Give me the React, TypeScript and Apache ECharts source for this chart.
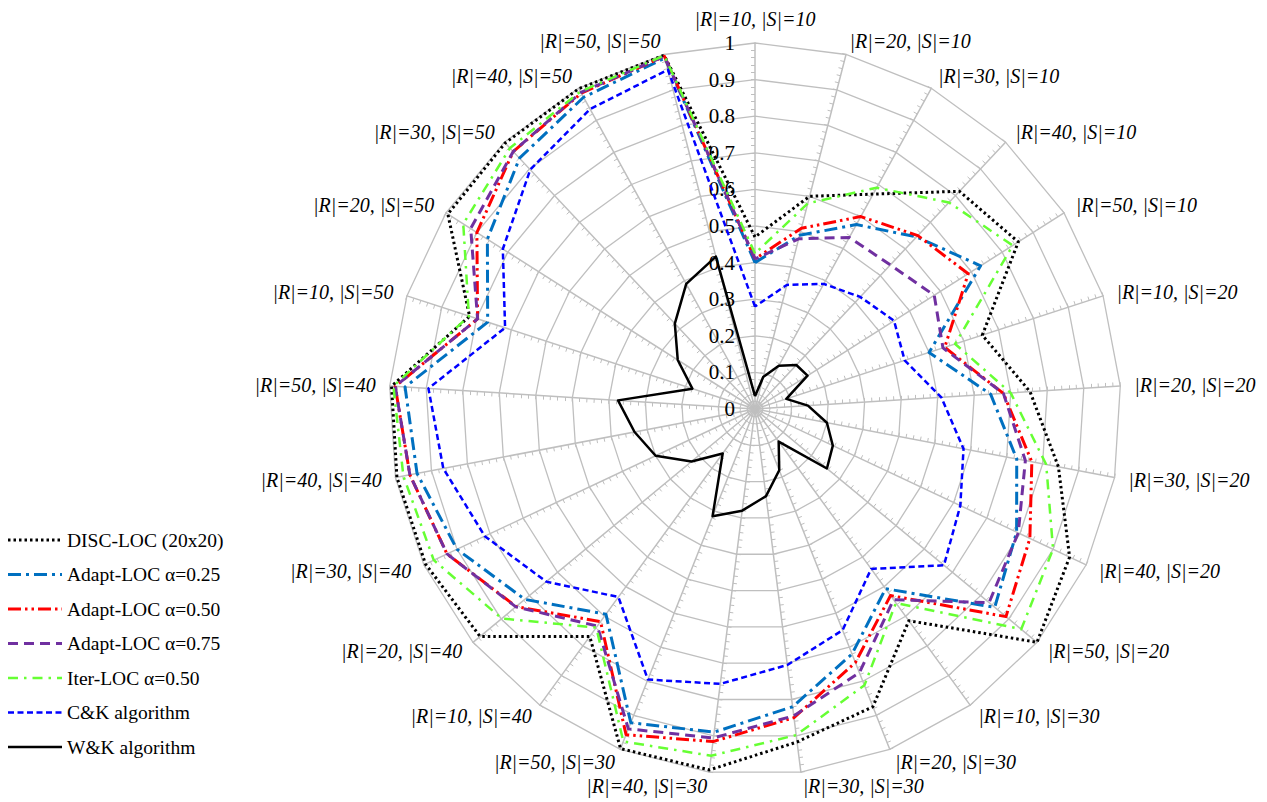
import React, { useEffect, useRef } from "react";
import * as echarts from "echarts";

// Spokes, listed clockwise starting from the top spoke.
const categories = [
  "|R|=10, |S|=10", "|R|=20, |S|=10", "|R|=30, |S|=10", "|R|=40, |S|=10", "|R|=50, |S|=10",
  "|R|=10, |S|=20", "|R|=20, |S|=20", "|R|=30, |S|=20", "|R|=40, |S|=20", "|R|=50, |S|=20",
  "|R|=10, |S|=30", "|R|=20, |S|=30", "|R|=30, |S|=30", "|R|=40, |S|=30", "|R|=50, |S|=30",
  "|R|=10, |S|=40", "|R|=20, |S|=40", "|R|=30, |S|=40", "|R|=40, |S|=40", "|R|=50, |S|=40",
  "|R|=10, |S|=50", "|R|=20, |S|=50", "|R|=30, |S|=50", "|R|=40, |S|=50", "|R|=50, |S|=50",
];

const seriesNames = [
  "DISC-LOC (20x20)",
  "Adapt-LOC α=0.25",
  "Adapt-LOC α=0.50",
  "Adapt-LOC α=0.75",
  "Iter-LOC α=0.50",
  "C&K algorithm",
  "W&K algorithm",
];

const discLoc = [0.47, 0.6, 0.67, 0.816, 0.852, 0.653, 0.753, 0.844, 0.95, 1.0, 0.715, 0.875, 0.917, 0.994, 0.998, 0.768, 0.975, 0.995, 0.996, 0.995, 0.82, 0.994, 0.997, 0.999, 0.998];
const adapt025 = [0.4, 0.49, 0.575, 0.645, 0.73, 0.5, 0.645, 0.728, 0.79, 0.85, 0.607, 0.72, 0.82, 0.89, 0.922, 0.693, 0.816, 0.9, 0.94, 0.958, 0.768, 0.866, 0.94, 0.972, 0.99];
const adapt050 = [0.41, 0.51, 0.6, 0.65, 0.69, 0.545, 0.68, 0.77, 0.83, 0.89, 0.63, 0.745, 0.85, 0.916, 0.957, 0.718, 0.847, 0.93, 0.96, 0.985, 0.797, 0.9, 0.965, 0.985, 0.995];
const adapt075 = [0.41, 0.48, 0.535, 0.54, 0.58, 0.54, 0.68, 0.752, 0.795, 0.83, 0.644, 0.775, 0.845, 0.906, 0.94, 0.733, 0.848, 0.93, 0.96, 0.985, 0.797, 0.92, 0.965, 0.987, 0.995];
const iterLoc = [0.425, 0.58, 0.69, 0.774, 0.834, 0.575, 0.7, 0.81, 0.9, 0.944, 0.655, 0.812, 0.898, 0.955, 0.977, 0.738, 0.898, 0.97, 0.978, 0.99, 0.822, 0.944, 0.978, 0.99, 0.997];
const ckAlgorithm = [0.28, 0.35, 0.39, 0.42, 0.45, 0.43, 0.51, 0.58, 0.62, 0.67, 0.54, 0.65, 0.705, 0.757, 0.795, 0.635, 0.74, 0.816, 0.867, 0.894, 0.718, 0.816, 0.897, 0.935, 0.957];
const wkAlgorithm = [0.035, 0.09, 0.135, 0.165, 0.17, 0.09, 0.145, 0.2, 0.235, 0.255, 0.11, 0.18, 0.24, 0.28, 0.315, 0.15, 0.225, 0.3, 0.335, 0.375, 0.18, 0.25, 0.32, 0.39, 0.43];

const seriesValues = [discLoc, adapt025, adapt050, adapt075, iterLoc, ckAlgorithm, wkAlgorithm];

const lineStyles = [
  { color: "#000000", width: 3, dash: [2.5, 3] as number[] | "solid" },
  { color: "#0070C0", width: 3, dash: [13, 5, 3, 5] as number[] | "solid" },
  { color: "#FF0000", width: 3, dash: [13, 4, 2.5, 4, 2.5, 4] as number[] | "solid" },
  { color: "#7030A0", width: 3, dash: [10, 6] as number[] | "solid" },
  { color: "#66FF33", width: 2.5, dash: [10, 6, 2.5, 6] as number[] | "solid" },
  { color: "#0000FF", width: 2.5, dash: [6, 3.5] as number[] | "solid" },
  { color: "#000000", width: 2.5, dash: "solid" as number[] | "solid" },
];

const SERIF = "'Liberation Serif', 'Times New Roman', serif";

export default function App() {
  const ref = useRef<HTMLDivElement>(null);

  useEffect(() => {
    if (!ref.current) return;
    const chart = echarts.init(ref.current, undefined, { renderer: "svg" });

    // Radar lays spokes out counter-clockwise; feed them reversed so they run clockwise.
    const order = categories.map((_, i) => (i === 0 ? 0 : categories.length - i));

    const indicator = order.map((k, i) => {
      const item: any = { name: categories[k], min: 0, max: 1 };
      item.minorTick = {
        show: true,
        splitNumber: 5,
        length: 4,
        lineStyle: { color: "#BFBFBF", width: 1 },
      };
      if (i === 0) {
        item.axisLabel = {
          show: true,
          color: "#000",
          fontFamily: SERIF,
          fontSize: 21,
          margin: 20,
          formatter: (v: number) => String(Math.round(v * 10) / 10),
        };
      }
      return item;
    });

    const legendGraphics: any[] = [];
    seriesNames.forEach((name, i) => {
      const y = 540 + i * 34.5;
      const st = lineStyles[i];
      legendGraphics.push({
        type: "line",
        shape: { x1: 8, y1: y, x2: 62, y2: y },
        style: {
          stroke: st.color,
          lineWidth: st.width,
          lineDash: st.dash === "solid" ? null : st.dash,
        },
      });
      legendGraphics.push({
        type: "text",
        x: 67,
        y: y,
        style: {
          text: name,
          fill: "#000",
          font: `19.5px ${SERIF}`,
          verticalAlign: "middle",
          align: "left",
        },
      });
    });

    chart.setOption({
      animation: false,
      backgroundColor: "#ffffff",
      radar: {
        center: [755, 409],
        radius: 366,
        startAngle: 90,
        shape: "polygon",
        splitNumber: 10,
        indicator,
        nameGap: 14,
        axisName: {
          color: "#000",
          fontFamily: SERIF,
          fontStyle: "italic",
          fontSize: 20,
        },
        axisLine: { lineStyle: { color: "#BFBFBF", width: 1.5 } },
        axisTick: {
          show: true,
          inside: true,
          length: 4,
          lineStyle: { color: "#BFBFBF", width: 1 },
        },
        axisLabel: { show: false },
        splitLine: { lineStyle: { color: "#BFBFBF", width: 1.3 } },
        splitArea: { show: false },
      },
      graphic: legendGraphics,
      series: [
        {
          type: "radar",
          symbol: "none",
          silent: true,
          data: seriesNames.map((name, i) => ({
            name,
            value: order.map((k) => seriesValues[i][k]),
            symbol: "none",
            lineStyle: {
              color: lineStyles[i].color,
              width: lineStyles[i].width,
              type: lineStyles[i].dash,
            },
            itemStyle: { color: lineStyles[i].color },
          })),
        },
      ],
    });

    return () => chart.dispose();
  }, []);

  return (
    <div
      ref={ref}
      style={{ position: "fixed", left: 0, top: 0, width: 1267, height: 802, background: "#fff" }}
    />
  );
}
